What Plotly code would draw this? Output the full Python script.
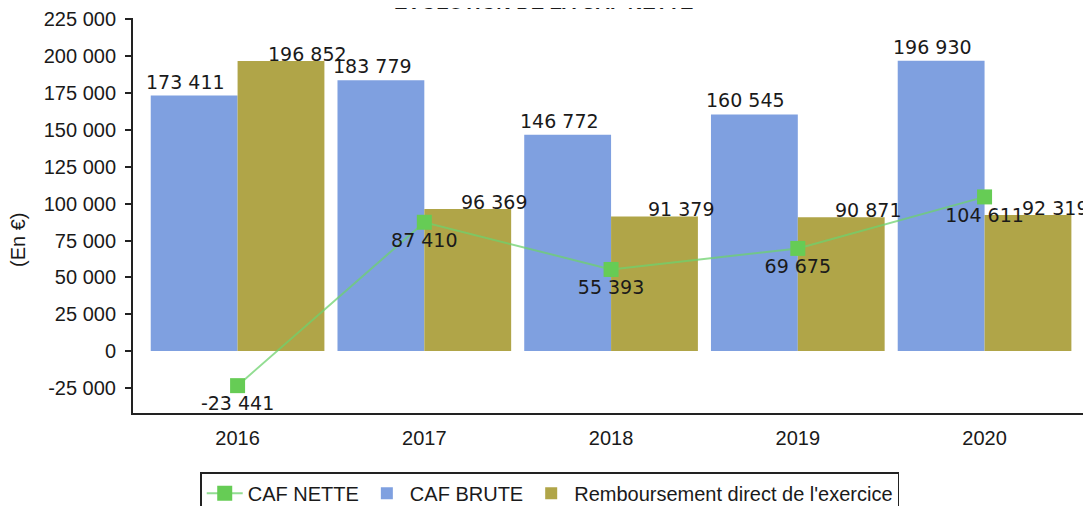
import plotly.graph_objects as go

years = ["2016", "2017", "2018", "2019", "2020"]
caf_nette = [-23441, 87410, 55393, 69675, 104611]
caf_brute = [173411, 183779, 146772, 160545, 196930]
remboursement = [196852, 96369, 91379, 90871, 92319]
y_ticks = [-25000, 0, 25000, 50000, 75000, 100000, 125000, 150000, 175000, 200000, 225000]


def fmt(v):
    return f"{v:,}".replace(",", " ")


label_font = dict(family="DejaVu Sans", size=19, color="#1a1a1a")
axis_font = dict(family="Liberation Sans, Arial", size=20, color="#1a1a1a")

fig = go.Figure()
fig.add_trace(go.Bar(
    x=years, y=caf_brute, name="CAF BRUTE",
    marker=dict(color="#7fa0e0", line=dict(width=0)),
    legendrank=2,
))
fig.add_trace(go.Bar(
    x=years, y=remboursement, name="Remboursement direct de l'exercice",
    marker=dict(color="#b0a548", line=dict(width=0)),
    legendrank=3,
))
fig.add_trace(go.Scatter(
    x=years, y=caf_nette, name="CAF NETTE", mode="lines+markers+text",
    line=dict(color="rgba(110,210,110,0.75)", width=2),
    marker=dict(symbol="square", size=15, color="#66cc55"),
    text=[fmt(v) for v in caf_nette], textposition="bottom center",
    textfont=label_font, cliponaxis=False, legendrank=1,
))

annotations = []
# bar value labels (blue bars sit left of category centre, gold bars right)
for i, v in enumerate(caf_brute):
    annotations.append(dict(
        x=i, y=v, xref="x", yref="y", text=fmt(v), showarrow=False,
        xanchor="center", yanchor="bottom", xshift=-52, yshift=1, font=label_font,
    ))
for i, v in enumerate(remboursement):
    annotations.append(dict(
        x=i, y=v, xref="x", yref="y", text=fmt(v), showarrow=False,
        xanchor="center", yanchor="bottom", xshift=70, yshift=-6, font=label_font,
    ))

annotations += [
    dict(text="(En €)", xref="paper", yref="paper", x=-0.12, y=0.438,
         textangle=-90, showarrow=False, font=axis_font,
         xanchor="center", yanchor="middle"),
    # title is cut off at the top edge in the reference
    dict(text="<b>ÉVOLUTION DE LA CAF NETTE</b>", xref="paper", yref="paper",
         x=0.428, y=1.008, showarrow=False, xanchor="center", yanchor="bottom",
         font=dict(family="Liberation Sans, Arial", size=20, color="#1a1a1a")),
]

# the page body adds an 8 px margin, so the figure is 8 px smaller each way
fig.update_layout(
    width=1083, height=498,
    margin=dict(l=125, r=0, t=10, b=93, autoexpand=False),
    paper_bgcolor="white", plot_bgcolor="white",
    barmode="group", bargap=0.07, bargroupgap=0,
    showlegend=True,
    legend=dict(
        orientation="h", x=0.435, xanchor="center", y=-0.15, yanchor="top",
        bordercolor="#222222", borderwidth=1.5, font=axis_font,
        traceorder="normal", itemwidth=36,
    ),
    xaxis=dict(
        range=[-0.56, 4.57], showline=True, linecolor="#222222", linewidth=2,
        showgrid=False, ticks="", tickfont=axis_font, zeroline=False,
        automargin=False, ticklabelstandoff=6,
    ),
    yaxis=dict(
        range=[-42000, 226000], showline=True, linecolor="#222222", linewidth=2,
        showgrid=False, zeroline=False, ticks="outside", ticklen=6,
        tickcolor="#222222", tickwidth=1.5, automargin=False, ticklabelstandoff=5,
        tickvals=y_ticks, ticktext=[fmt(v) for v in y_ticks], tickfont=axis_font,
    ),
    annotations=annotations,
)

fig.write_html("out.html")
